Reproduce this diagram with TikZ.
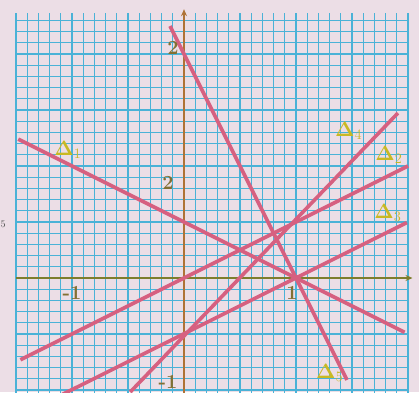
\documentclass[tikz,border=0pt]{standalone}
\usetikzlibrary{arrows.meta}
\definecolor{paper}{RGB}{236,222,230}
\definecolor{gridblue}{RGB}{75,178,215}
\definecolor{linepink}{RGB}{214,96,128}
\definecolor{axisx}{RGB}{125,125,45}
\definecolor{axisy}{RGB}{175,115,55}
\definecolor{lab}{RGB}{200,185,35}
\definecolor{num}{RGB}{130,112,50}
\tikzset{
  minorline/.style={gridblue, line width=0.9pt},
  majorline/.style={gridblue, line width=1.6pt},
  axisline/.style={line width=2pt, -{Stealth[length=7pt,width=6pt]}},
  droite/.style={linepink, line width=3.6pt},
  dlabel/.style={text=lab, font=\fontsize{20}{22}\selectfont, inner sep=0pt},
  numlabel/.style={text=num, font=\fontsize{20}{22}\selectfont\bfseries, inner sep=0pt}
}
\begin{document}
\begin{tikzpicture}[x=1pt,y=1pt]
\fill[paper] (0,0) rectangle (419,392);
\useasboundingbox (0,0) rectangle (419,392);
\node[text=black!70, font=\fontsize{10}{11}\selectfont, anchor=west, inner sep=0pt] (edge) at (0.5,168) {5};
\begin{scope}[shift={(184,114)}, x=112pt, y=112pt]
  % grid
  \foreach \i in {-15,...,20} \draw[minorline] (\i/10,-1.05) -- (\i/10,2.37);
  \foreach \j in {-10,...,23} \draw[minorline] (-1.5,\j/10) -- (2.0,\j/10);
  \foreach \i in {-15,-10,...,20} \draw[majorline] (\i/10,-1.05) -- (\i/10,2.37);
  \foreach \j in {-10,-5,...,20} \draw[majorline] (-1.5,\j/10) -- (2.0,\j/10);
  % axes
  \coordinate (xl) at (-1.5,0);
  \coordinate (xr) at (2.04,0);
  \coordinate (yb) at (0,-1.05);
  \coordinate (yt) at (0,2.4);
  \draw[axisline, axisx] (xl) -- (xr);
  \draw[axisline, axisy] (yb) -- (yt);
  % lines
  \coordinate (a1) at (-1.48,1.24);   \coordinate (b1) at (1.97,-0.485);
  \coordinate (a2) at (-1.46,-0.73);  \coordinate (b2) at (2.0,1.0);
  \coordinate (a3) at (-1.107,-1.05); \coordinate (b3) at (1.99,0.495);
  \coordinate (a4) at (-0.48,-1.018); \coordinate (b4) at (1.91,1.473);
  \coordinate (a5) at (-0.125,2.25);  \coordinate (b5) at (1.455,-0.91);
  \draw[droite] (a1) -- (b1);
  \draw[droite] (a2) -- (b2);
  \draw[droite] (a3) -- (b3);
  \draw[droite] (a4) -- (b4);
  \draw[droite] (a5) -- (b5);
  % labels
  \node[dlabel] (l1) at (-1.036,1.143) {$\mathbf{\Delta}_1$};
  \node[dlabel] (l4) at (1.47,1.31) {$\mathbf{\Delta}_4$};
  \node[dlabel] (l2) at (1.83,1.10) {$\mathbf{\Delta}_2$};
  \node[dlabel] (l3) at (1.821,0.58) {$\mathbf{\Delta}_3$};
  \node[dlabel] (l5) at (1.30,-0.848) {$\mathbf{\Delta}_5$};
  \node[numlabel] (n1) at (-0.098,2.054) {2};
  \node[numlabel] (n2) at (-0.143,0.848) {2};
  \node[numlabel] (n3) at (-1.0,-0.134) {-1};
  \node[numlabel] (n4) at (0.964,-0.134) {1};
  \node[numlabel] (n5) at (-0.143,-0.93) {-1};
\end{scope}
\end{tikzpicture}
\end{document}
